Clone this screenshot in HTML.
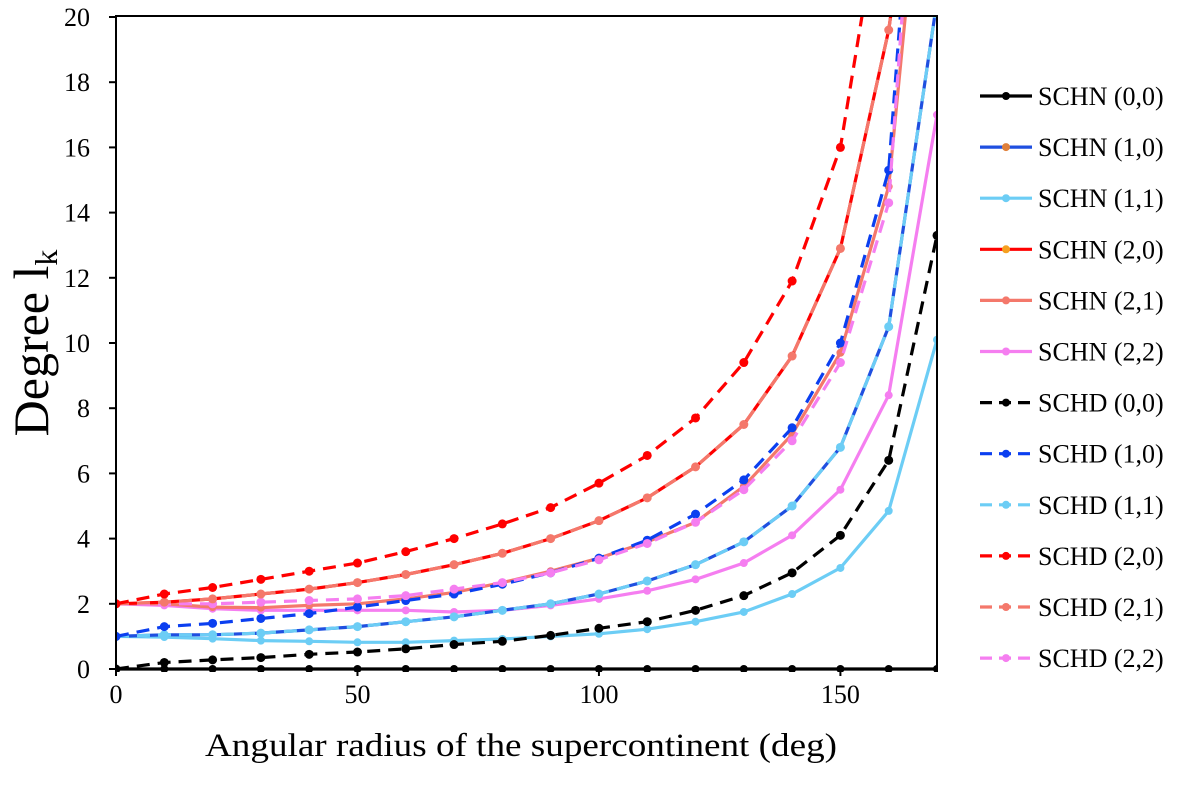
<!DOCTYPE html>
<html><head><meta charset="utf-8"><style>
body{margin:0;background:#fff}
svg text{font-family:"Liberation Serif",serif;fill:#000}
</style></head><body>
<svg id="chart" width="1200" height="784" viewBox="0 0 1200 784" xmlns="http://www.w3.org/2000/svg">
<defs><clipPath id="pc"><rect x="116" y="16" width="822" height="656"/></clipPath></defs>
<g id="plot" clip-path="url(#pc)"></g>
<g id="axes"></g>
<g id="legend"></g>
<text x="205" y="756" font-size="33" textLength="632" lengthAdjust="spacingAndGlyphs">Angular radius of the supercontinent (deg)</text>
<text transform="translate(48,343) rotate(-90)" font-size="50" text-anchor="middle">Degree l<tspan font-size="32" dy="9">k</tspan></text>
</svg>
<script>
const xs=[0,10,20,30,40,50,60,70,80,90,100,110,120,130,140,150,160,170];
const xTicks=[0,50,100,150];
const yTicks=[0,2,4,6,8,10,12,14,16,18,20];
const names=["SCHN (0,0)","SCHN (1,0)","SCHN (1,1)","SCHN (2,0)","SCHN (2,1)","SCHN (2,2)","SCHD (0,0)","SCHD (1,0)","SCHD (1,1)","SCHD (2,0)","SCHD (2,1)","SCHD (2,2)"];
const schn00=[0,0,0,0,0,0,0,0,0,0,0,0,0,0,0,0,0,0];
const schn10=[1.0,1.05,1.05,1.1,1.2,1.3,1.45,1.6,1.8,2.0,2.3,2.7,3.2,3.9,5.0,6.8,10.5,20.5];
const schn11=[1.0,0.98,0.93,0.87,0.85,0.82,0.82,0.87,0.92,1.0,1.08,1.22,1.45,1.75,2.3,3.1,4.85,10.1];
const schn20=[2.0,2.05,2.15,2.3,2.45,2.65,2.9,3.2,3.55,4.0,4.55,5.25,6.2,7.5,9.6,12.9,19.6,30];
const schn21=[2.0,2.0,1.9,1.88,1.95,2.0,2.15,2.35,2.65,3.0,3.4,3.9,4.5,5.6,7.2,9.7,14.8,30];
const schn22=[2.0,1.95,1.85,1.8,1.8,1.8,1.8,1.75,1.8,1.95,2.15,2.4,2.75,3.25,4.1,5.5,8.4,17.0];
const schd00=[0,0.2,0.28,0.35,0.45,0.52,0.62,0.75,0.85,1.03,1.25,1.45,1.8,2.25,2.95,4.1,6.4,13.3];
const schd10=[1.0,1.3,1.4,1.55,1.7,1.9,2.1,2.3,2.6,2.95,3.4,3.95,4.75,5.8,7.4,10.0,15.3,35];
const schd11=[1.0,1.05,1.05,1.1,1.2,1.3,1.45,1.6,1.8,2.0,2.3,2.7,3.2,3.9,5.0,6.8,10.5,20.5];
const schd20=[2.0,2.3,2.5,2.75,3.0,3.25,3.6,4.0,4.45,4.95,5.7,6.55,7.7,9.4,11.9,16.0,25,40];
const schd21=[2.0,2.05,2.15,2.3,2.45,2.65,2.9,3.2,3.55,4.0,4.55,5.25,6.2,7.5,9.6,12.9,19.6,30];
const schd22=[2.0,2.0,2.0,2.05,2.1,2.15,2.25,2.45,2.65,2.95,3.35,3.85,4.5,5.5,7.0,9.4,14.3,35];
const series=[schn00,schn10,schn11,schn20,schn21,schn22,schd00,schd10,schd11,schd20,schd21,schd22];
const colors=["#000","#1f4fe0","#6ccdf5","#f00","#f4786b","#f57ef0","#000","#0b3ff0","#6ccdf5","#f00","#f4786b","#f57ef0"];
const mcolors=["#000","#e0803a","#6ccdf5","#f5a020","#f4786b","#f57ef0","#000","#0b3ff0","#6ccdf5","#f00","#f4786b","#f57ef0"];
const dashed=[0,0,0,0,0,0,1,1,1,1,1,1];
const X=v=>116+v*(937-116)/170;
const Y=v=>669-v*(669-17)/20;
const NS="http://www.w3.org/2000/svg";
function mk(tag,attrs,parent){const e=document.createElementNS(NS,tag);for(const k in attrs)e.setAttribute(k,attrs[k]);parent.appendChild(e);return e;}
const plot=document.getElementById('plot'),axes=document.getElementById('axes'),leg=document.getElementById('legend');
const order=[0,2,5,1,4,3,6,8,7,11,10,9];
order.forEach(i=>{
  const g=mk('g',{},plot);
  
  
  const d=series[i].map((v,j)=>(j?'L':'M')+X(xs[j]).toFixed(1)+','+Y(v).toFixed(1)).join('');
  const p=mk('path',{d:d,fill:'none',stroke:colors[i],'stroke-width':3.2,'stroke-dasharray':dashed[i]?'13,8':'none'},g);
  
  
  series[i].forEach((v,j)=>{const c=mk('circle',{cx:X(xs[j]),cy:Y(v),r:dashed[i]?4.5:4,fill:mcolors[i]},g);
    
    });
});
const fr=mk('rect',{x:116,y:16,width:821,height:653,fill:'none',stroke:'#000','stroke-width':2},axes);


yTicks.forEach(t=>{
  mk('line',{x1:109,x2:116,y1:Y(t),y2:Y(t),stroke:'#000','stroke-width':2},axes);
  const tx=mk('text',{x:90,y:Y(t)+9,'font-size':26,'text-anchor':'end'},axes);tx.textContent=t;
  
  
});
xTicks.forEach(t=>{
  mk('line',{x1:X(t),x2:X(t),y1:669,y2:676,stroke:'#000','stroke-width':2},axes);
  const tx=mk('text',{x:X(t),y:703,'font-size':26,'text-anchor':'middle'},axes);tx.textContent=t;
  
  
});
names.forEach((n,i)=>{
  const y=96+i*51.1;
  const g=mk('g',{},leg);
  
  
  mk('line',{x1:980,x2:1032,y1:y,y2:y,stroke:colors[i],'stroke-width':3.2,'stroke-dasharray':dashed[i]?'12,7':'none'},g);
  mk('circle',{cx:1006,cy:y,r:4,fill:mcolors[i]},g);
  const t=mk('text',{x:1038,y:y+9,'font-size':26},g);t.textContent=n;
});
</script>
</body></html>
